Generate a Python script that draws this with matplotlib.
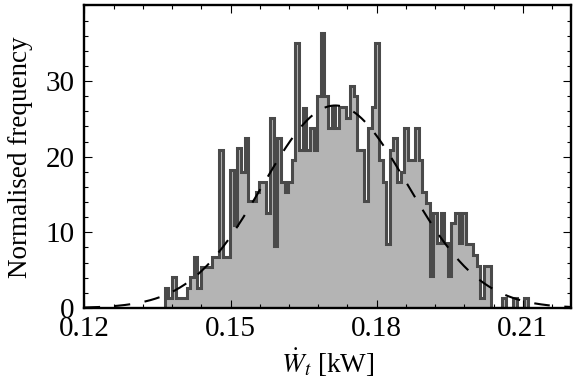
import matplotlib
matplotlib.use("Agg")
import matplotlib.pyplot as plt
from matplotlib.ticker import MultipleLocator
import numpy as np

# histogram of the turbine power (normalised), equal width bins
bin_start = 0.1365
bin_width = 0.000745
density = [
    2.7, 1.35, 4.05, 1.35, 1.35, 1.35, 2.7, 4.05, 6.75, 2.7,
    5.4, 5.4, 5.4, 6.75, 6.75, 20.9, 6.75, 6.75, 18.3, 11.0,
    21.2, 18.0, 22.5, 14.1, 14.1, 15.4, 16.7, 16.7, 12.6, 25.1,
    8.2, 22.5, 16.7, 15.4, 16.7, 19.6, 35.0, 20.9, 26.5, 20.9,
    23.8, 20.9, 28.0, 36.3, 28.0, 23.8, 26.6, 23.8, 26.6, 26.6,
    25.1, 29.4, 28.0, 20.9, 20.9, 14.1, 23.8, 26.6, 35.0, 19.6,
    16.7, 8.4, 20.9, 22.5, 16.7, 18.0, 23.8, 19.6, 19.6, 23.8,
    19.6, 15.4, 13.9, 4.2, 12.6, 8.6, 12.6, 8.6, 4.2, 11.3,
    12.6, 8.6, 12.6, 8.4, 8.4, 7.0, 5.5, 1.35, 5.5, 5.5,
    0.0, 0.0, 0.0, 1.35, 0.0, 0.0, 1.35, 0.0, 0.0, 1.35,
]

# fitted normal distribution
fit_mean = 0.1715
fit_std = 0.0149

plt.rcParams['font.family'] = ['Liberation Serif', 'DejaVu Serif']
plt.rcParams['mathtext.fontset'] = 'stix'
plt.rcParams['font.size'] = 19.5

edges = bin_start + bin_width * np.arange(len(density) + 1)

fig = plt.figure(figsize=(5.74, 3.83), dpi=100)
ax = fig.add_axes([0.1472, 0.1958, 0.8484, 0.790])

ax.stairs(density, edges, fill=True, color='#b4b4b4', lw=0)
ax.stairs(density, edges, baseline=0, color='#4a4a4a', lw=2.2)

x = np.linspace(0.12, 0.22, 400)
pdf = np.exp(-0.5 * ((x - fit_mean) / fit_std) ** 2) / (fit_std * np.sqrt(2 * np.pi))
ax.plot(x, pdf, color='black', lw=1.5, linestyle=(0, (7.5, 7)))

ax.set_xlim(0.12, 0.22)
ax.set_ylim(0, 40)
ax.set_xticks([0.12, 0.15, 0.18, 0.21])
ax.set_xticklabels(['0.12', '0.15', '0.18', '0.21'])
ax.set_yticks([0, 10, 20, 30])
ax.xaxis.set_minor_locator(MultipleLocator(0.006))
ax.yaxis.set_minor_locator(MultipleLocator(2))
ax.tick_params(which='both', direction='in', top=True, right=True, width=0.8,
               labelsize=21)
ax.tick_params(which='major', length=6)
ax.tick_params(axis='x', which='major', pad=6)
ax.tick_params(axis='y', which='major', pad=7)
ax.tick_params(which='minor', length=3)
for s in ax.spines.values():
    s.set_linewidth(1.7)

ax.set_xlabel(r'$\dot{W}_t$ [kW]', labelpad=3)
ax.set_ylabel('Normalised frequency', labelpad=9)

fig.savefig('out.png', dpi=100)
